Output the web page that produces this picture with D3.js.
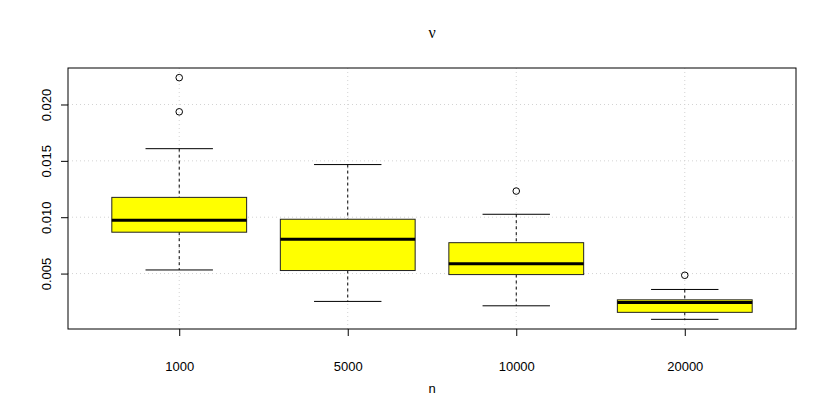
<!DOCTYPE html>
<html>
<head>
<meta charset="utf-8">
<script src="https://cdn.jsdelivr.net/npm/d3@7"></script>
<style>
  body { margin: 0; background: #fff; }
  text { font-family: "Liberation Sans", Arial, sans-serif; fill: #000; }
</style>
</head>
<body>
<svg id="chart"></svg>
<script>
// boxplot summaries
const groups = ['1000', '5000', '10000', '20000'];
const lowerWhisker = [0.00532, 0.00253, 0.00214, 0.00094];
const q1 = [0.00867, 0.00527, 0.00491, 0.00156];
const median = [0.00973, 0.00805, 0.00588, 0.00244];
const q3 = [0.01176, 0.00982, 0.00774, 0.00267];
const upperWhisker = [0.01608, 0.01467, 0.01026, 0.00359];
const outliers = [[0.02238, 0.01935], [], [0.01232], [0.00485]];
const yTicks = [0.005, 0.010, 0.015, 0.020];

const width = 830, height = 415;
const margin = { top: 68, right: 34, bottom: 86, left: 68 };

const svg = d3.select('#chart').attr('width', width).attr('height', height);

// R style: 4% padding on both axes
const allVals = lowerWhisker.concat(upperWhisker, outliers.flat());
const lo = d3.min(allVals), hi = d3.max(allVals);
const pad = (hi - lo) * 0.04;

const x = d3.scaleLinear()
    .domain([0.5 - 0.16, groups.length + 0.5 + 0.16])
    .range([margin.left, width - margin.right]);
const y = d3.scaleLinear()
    .domain([lo - pad, hi + pad])
    .range([height - margin.bottom, margin.top]);

const unit = x(1) - x(0);
const boxW = unit * 0.8;
const capW = boxW / 2;

// grid
const grid = svg.append('g').attr('stroke', '#d3d3d3').attr('stroke-dasharray', '1,3');
yTicks.forEach(t => {
    grid.append('line')
        .attr('x1', margin.left).attr('x2', width - margin.right)
        .attr('y1', y(t)).attr('y2', y(t));
});
groups.forEach((g, i) => {
    grid.append('line')
        .attr('x1', x(i + 1)).attr('x2', x(i + 1))
        .attr('y1', margin.top).attr('y2', height - margin.bottom);
});

// boxes
groups.forEach((g, i) => {
    const cx = x(i + 1);
    const b = svg.append('g');
    b.append('line')
        .attr('x1', cx).attr('x2', cx)
        .attr('y1', y(upperWhisker[i])).attr('y2', y(q3[i]))
        .attr('stroke', '#000').attr('stroke-dasharray', '3,3');
    b.append('line')
        .attr('x1', cx).attr('x2', cx)
        .attr('y1', y(q1[i])).attr('y2', y(lowerWhisker[i]))
        .attr('stroke', '#000').attr('stroke-dasharray', '3,3');
    [upperWhisker[i], lowerWhisker[i]].forEach(v => {
        b.append('line')
            .attr('x1', cx - capW / 2).attr('x2', cx + capW / 2)
            .attr('y1', y(v)).attr('y2', y(v))
            .attr('stroke', '#000');
    });
    b.append('rect')
        .attr('x', cx - boxW / 2).attr('width', boxW)
        .attr('y', y(q3[i])).attr('height', y(q1[i]) - y(q3[i]))
        .attr('fill', '#ffff00').attr('stroke', '#222').attr('stroke-width', 1);
    b.append('line')
        .attr('x1', cx - boxW / 2).attr('x2', cx + boxW / 2)
        .attr('y1', y(median[i])).attr('y2', y(median[i]))
        .attr('stroke', '#000').attr('stroke-width', 3);
    outliers[i].forEach(v => {
        b.append('circle')
            .attr('cx', cx).attr('cy', y(v)).attr('r', 3.3)
            .attr('fill', 'none').attr('stroke', '#000');
    });
});

// frame
svg.append('rect')
    .attr('x', margin.left).attr('y', margin.top)
    .attr('width', width - margin.left - margin.right)
    .attr('height', height - margin.top - margin.bottom)
    .attr('fill', 'none').attr('stroke', '#000');

// y axis
const yAxis = svg.append('g')
    .attr('transform', `translate(${margin.left},0)`)
    .call(d3.axisLeft(y).tickValues(yTicks).tickFormat(d3.format('.3f')).tickSize(7));
yAxis.select('.domain').remove();
yAxis.selectAll('.tick text')
    .attr('font-size', 13)
    .attr('text-anchor', 'middle')
    .attr('transform', 'rotate(-90)')
    .attr('x', 0).attr('y', -17).attr('dy', '0');

// x axis
const xAxis = svg.append('g')
    .attr('transform', `translate(0,${height - margin.bottom})`)
    .call(d3.axisBottom(x).tickValues(d3.range(1, groups.length + 1))
        .tickFormat(d => groups[d - 1]).tickSize(7).tickPadding(26));
xAxis.select('.domain').remove();
xAxis.selectAll('text').attr('font-size', 13);

// titles
svg.append('text')
    .attr('x', (margin.left + width - margin.right) / 2).attr('y', 38)
    .attr('text-anchor', 'middle').attr('font-size', 16)
    .style('font-family', '"Liberation Serif", "DejaVu Serif", serif')
    .text('ν');
svg.append('text')
    .attr('x', (margin.left + width - margin.right) / 2).attr('y', 393)
    .attr('text-anchor', 'middle').attr('font-size', 13)
    .text('n');
</script>
</body>
</html>
